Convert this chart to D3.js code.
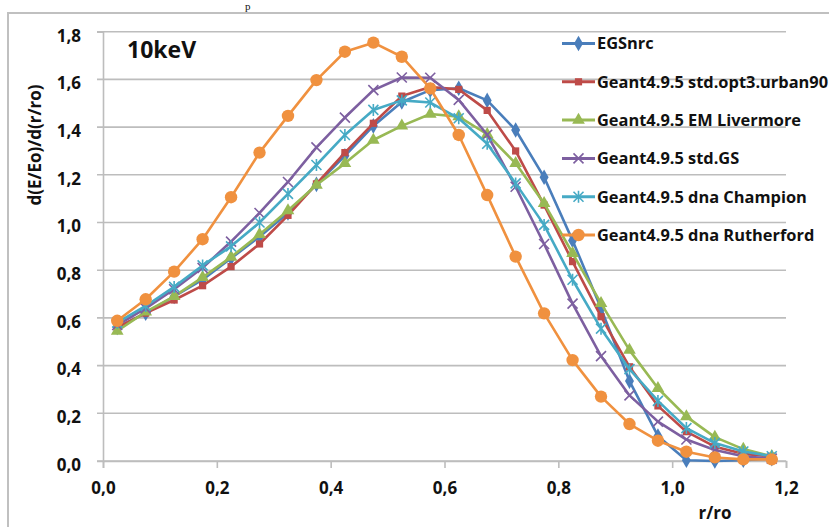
<!DOCTYPE html>
<head>
  <meta charset="utf-8">
  <script src="https://cdn.jsdelivr.net/npm/d3@7"></script>
</head>
<style>
  body { margin: 0; background: #fff; }
  text { font-family: "Open Sans", "Liberation Sans", sans-serif; font-weight: bold; fill: #111; }
</style>
<body>
<script>

// r/ro bin centres
var rRatio = [0.025, 0.075, 0.125, 0.175, 0.225, 0.275, 0.325, 0.375, 0.425, 0.475, 0.525, 0.575,
              0.625, 0.675, 0.725, 0.775, 0.825, 0.875, 0.925, 0.975, 1.025, 1.075, 1.125, 1.175];

var egsnrc     = [0.56, 0.62, 0.69, 0.76, 0.85, 0.94, 1.04, 1.16, 1.28, 1.405, 1.505, 1.555,
                  1.563, 1.512, 1.388, 1.19, 0.925, 0.64, 0.335, 0.105, 0.003, 0.0, 0.003, 0.01];
var urban90    = [0.56, 0.62, 0.675, 0.735, 0.815, 0.91, 1.03, 1.162, 1.293, 1.416, 1.53, 1.568,
                  1.558, 1.47, 1.3, 1.073, 0.836, 0.605, 0.395, 0.231, 0.123, 0.06, 0.03, 0.02];
var livermore  = [0.545, 0.625, 0.69, 0.77, 0.855, 0.95, 1.05, 1.157, 1.248, 1.346, 1.405, 1.455,
                  1.444, 1.37, 1.248, 1.08, 0.871, 0.661, 0.465, 0.305, 0.186, 0.1, 0.05, 0.02];
var stdGS      = [0.57, 0.64, 0.72, 0.81, 0.92, 1.04, 1.17, 1.315, 1.44, 1.555, 1.608, 1.607,
                  1.514, 1.368, 1.15, 0.91, 0.66, 0.44, 0.275, 0.165, 0.09, 0.046, 0.02, 0.01];
var champion   = [0.58, 0.65, 0.73, 0.82, 0.90, 1.00, 1.12, 1.241, 1.367, 1.472, 1.512, 1.503,
                  1.437, 1.33, 1.164, 0.99, 0.76, 0.555, 0.385, 0.252, 0.138, 0.075, 0.04, 0.02];
var rutherford = [0.588, 0.678, 0.794, 0.93, 1.106, 1.293, 1.447, 1.597, 1.716, 1.754, 1.695, 1.562,
                  1.367, 1.115, 0.857, 0.619, 0.423, 0.27, 0.155, 0.085, 0.039, 0.015, 0.007, 0.007];

var seriesNames = ["EGSnrc", "Geant4.9.5 std.opt3.urban90", "Geant4.9.5 EM Livermore",
                   "Geant4.9.5 std.GS", "Geant4.9.5 dna Champion", "Geant4.9.5 dna Rutherford"];

var xTicks = [0, 0.2, 0.4, 0.6, 0.8, 1.0, 1.2];
var yTicks = [0, 0.2, 0.4, 0.6, 0.8, 1.0, 1.2, 1.4, 1.6, 1.8];

var series = [
  {name: seriesNames[0], values: egsnrc,     color: "#4a7ebb", marker: "diamond"},
  {name: seriesNames[1], values: urban90,    color: "#be4b48", marker: "square"},
  {name: seriesNames[2], values: livermore,  color: "#98b954", marker: "triangle"},
  {name: seriesNames[3], values: stdGS,      color: "#7d5fa0", marker: "x"},
  {name: seriesNames[4], values: champion,   color: "#46aac5", marker: "star"},
  {name: seriesNames[5], values: rutherford, color: "#f0913f", marker: "circle"}
];

var width = 829, height = 527;

var svg = d3.select("body").append("svg")
    .attr("width", width)
    .attr("height", height);

// bit of document text above the chart
svg.append("text")
    .attr("x", 245).attr("y", 10)
    .style("font-family", "Liberation Serif")
    .style("font-weight", "normal")
    .style("font-size", "11px")
    .text("p");

// chart area border
svg.append("path")
    .attr("d", "M8," + height + "V13H" + width)
    .attr("fill", "none")
    .attr("stroke", "#c0c0c0")
    .attr("stroke-width", 2);

var x = d3.scaleLinear().domain([0, 1.2]).range([103, 786]);
var y = d3.scaleLinear().domain([0, 1.8]).range([461, 31.7]);

var comma = d3.formatLocale({decimal: ",", thousands: ".", grouping: [3], currency: ["", ""]}).format(".1f");

// gridlines
svg.append("g").selectAll("line")
    .data(yTicks)
  .enter().append("line")
    .attr("x1", 97).attr("x2", 786)
    .attr("y1", function(d) { return y(d); })
    .attr("y2", function(d) { return y(d); })
    .attr("stroke", "#bdbdbd")
    .attr("stroke-width", 1.6);

// y axis labels
var yAxis = svg.append("g")
    .attr("transform", "translate(103,0)")
    .call(d3.axisLeft(y).tickValues(yTicks).tickFormat(comma).tickSize(6).tickPadding(16));
yAxis.select(".domain").attr("stroke", "#bdbdbd").attr("stroke-width", 1.6);
yAxis.selectAll(".tick line").remove();
yAxis.selectAll("text")
    .style("font-size", "17px")
    .attr("dy", "0.55em");

// x axis
var xAxis = svg.append("g")
    .attr("transform", "translate(0,461)")
    .call(d3.axisBottom(x).tickValues(xTicks).tickFormat(comma).tickSize(7).tickPadding(14));
xAxis.select(".domain").attr("stroke", "#bdbdbd").attr("stroke-width", 1.6);
xAxis.selectAll(".tick line").attr("stroke", "#bdbdbd").attr("stroke-width", 1.6);
xAxis.selectAll("text")
    .style("font-size", "17px");

// axis titles
svg.append("text")
    .attr("transform", "translate(41,145) rotate(-90)")
    .attr("text-anchor", "middle")
    .style("font-size", "17px")
    .text("d(E/Eo)/d(r/ro)");

svg.append("text")
    .attr("x", 715).attr("y", 519)
    .attr("text-anchor", "middle")
    .style("font-size", "17px")
    .text("r/ro");

svg.append("text")
    .attr("x", 127).attr("y", 58)
    .style("font-size", "23px")
    .text("10keV");

function drawMarker(g, type, color) {
  if (type == "diamond") {
    g.append("path").attr("d", d3.symbol(d3.symbolDiamond, 70)()).attr("fill", color);
  } else if (type == "square") {
    g.append("path").attr("d", d3.symbol(d3.symbolSquare, 52)()).attr("fill", color);
  } else if (type == "triangle") {
    g.append("path").attr("d", d3.symbol(d3.symbolTriangle, 70)()).attr("fill", color);
  } else if (type == "circle") {
    g.append("circle").attr("r", 6.2).attr("fill", color);
  } else if (type == "x") {
    g.append("path").attr("d", "M-5,-5L5,5M-5,5L5,-5")
      .attr("stroke", color).attr("stroke-width", 1.6).attr("fill", "none");
  } else {
    g.append("path").attr("d", "M-5,-5L5,5M-5,5L5,-5M0,-6V6")
      .attr("stroke", color).attr("stroke-width", 1.6).attr("fill", "none");
  }
}

var line = d3.line()
    .x(function(d, i) { return x(rRatio[i]); })
    .y(function(d) { return y(d); });

series.forEach(function(s) {
  var g = svg.append("g").attr("class", "series");
  g.append("path")
      .attr("d", line(s.values))
      .attr("fill", "none")
      .attr("stroke", s.color)
      .attr("stroke-width", 2.6)
      .attr("stroke-linejoin", "round");
  g.selectAll(".pt")
      .data(s.values)
    .enter().append("g")
      .attr("class", "pt")
      .attr("transform", function(d, i) { return "translate(" + x(rRatio[i]) + "," + y(d) + ")"; })
      .each(function() { drawMarker(d3.select(this), s.marker, s.color); });
});

// legend
var legend = svg.append("g").selectAll(".legend")
    .data(series)
  .enter().append("g")
    .attr("class", "legend")
    .attr("transform", function(d, i) { return "translate(562," + (43.5 + i * 38.3) + ")"; });

legend.append("line")
    .attr("x1", 0).attr("x2", 33)
    .attr("stroke", function(d) { return d.color; })
    .attr("stroke-width", 3);

legend.append("g")
    .attr("transform", "translate(16.5,0)")
    .each(function(d) { drawMarker(d3.select(this), d.marker, d.color); });

legend.append("text")
    .attr("x", 35).attr("dy", "0.36em")
    .style("font-size", "16.4px")
    .text(function(d) { return d.name; });

</script>
</body>
